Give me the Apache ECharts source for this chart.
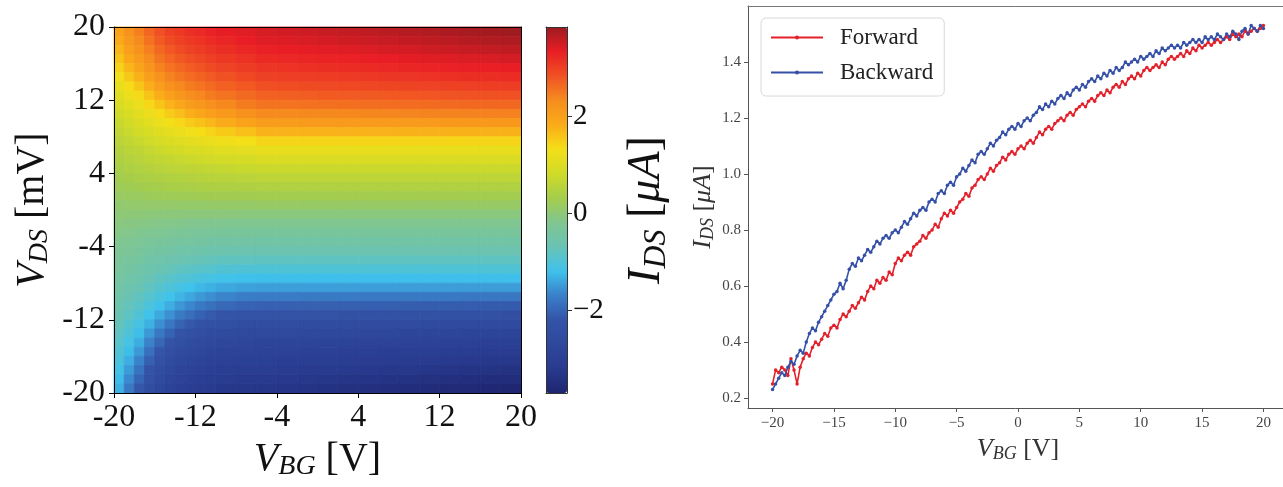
<!DOCTYPE html>
<html>
<head>
<meta charset="utf-8">
<script src="https://cdn.jsdelivr.net/npm/echarts@6/dist/echarts.min.js"></script>
<style>
html, body { margin: 0; padding: 0; background: #fff; }
#chart { width: 1283px; height: 487px; }
</style>
</head>
<body>
<div id="chart"></div>
<script>
// ---- left panel: I_DS map over (V_BG, V_DS) ----
// cell edges: V_BG in V (finer where the map bends), V_DS in mV (top first)
var vbgEdges = [-20, -19, -18, -17, -16, -15, -14, -13, -12, -11, -10, -8, -6, -4, -2, 0, 2, 4, 6, 8, 10, 12, 14, 16, 18, 20];
var vdsEdges = [20, 19, 18, 17, 16, 15, 14, 13, 12, 11, 10, 9, 8, 7, 6, 5, 4, 3, 2, 1, 0,
  -1, -2, -3, -4, -5, -6, -7, -8, -9, -10, -11, -12, -13, -14, -15, -16, -17, -18, -19, -20];
// I_DS in uA, one row per V_DS cell (top first), one column per V_BG cell
var idsMap = [
  [1.96, 2.22, 2.44, 2.65, 2.84, 2.98, 3.07, 3.15, 3.21, 3.28, 3.34, 3.40, 3.45, 3.48, 3.51, 3.54, 3.57, 3.60, 3.63, 3.66, 3.69, 3.72, 3.75, 3.78, 3.81],
  [1.85, 2.13, 2.34, 2.55, 2.74, 2.88, 2.98, 3.07, 3.12, 3.19, 3.25, 3.33, 3.39, 3.41, 3.44, 3.47, 3.50, 3.52, 3.55, 3.58, 3.60, 3.63, 3.66, 3.69, 3.71],
  [1.73, 2.01, 2.23, 2.44, 2.63, 2.77, 2.87, 2.97, 3.03, 3.10, 3.16, 3.23, 3.30, 3.32, 3.35, 3.37, 3.40, 3.42, 3.45, 3.47, 3.50, 3.52, 3.55, 3.57, 3.60],
  [1.59, 1.87, 2.10, 2.33, 2.52, 2.65, 2.76, 2.85, 2.92, 3.00, 3.07, 3.13, 3.20, 3.22, 3.24, 3.27, 3.29, 3.31, 3.33, 3.36, 3.38, 3.40, 3.42, 3.44, 3.47],
  [1.44, 1.72, 1.95, 2.18, 2.39, 2.53, 2.63, 2.73, 2.80, 2.88, 2.96, 3.03, 3.10, 3.12, 3.14, 3.16, 3.18, 3.20, 3.22, 3.24, 3.26, 3.28, 3.30, 3.31, 3.33],
  [1.28, 1.54, 1.77, 2.01, 2.23, 2.39, 2.50, 2.60, 2.67, 2.75, 2.83, 2.91, 2.99, 3.00, 3.02, 3.04, 3.05, 3.07, 3.09, 3.10, 3.12, 3.14, 3.16, 3.17, 3.19],
  [1.15, 1.36, 1.57, 1.81, 2.03, 2.22, 2.34, 2.46, 2.53, 2.61, 2.69, 2.77, 2.85, 2.86, 2.88, 2.89, 2.91, 2.92, 2.94, 2.95, 2.96, 2.98, 2.99, 3.01, 3.02],
  [1.02, 1.21, 1.38, 1.59, 1.81, 2.00, 2.15, 2.28, 2.36, 2.46, 2.54, 2.62, 2.70, 2.71, 2.72, 2.74, 2.75, 2.76, 2.77, 2.78, 2.79, 2.81, 2.82, 2.83, 2.84],
  [0.92, 1.07, 1.20, 1.39, 1.57, 1.75, 1.91, 2.05, 2.15, 2.26, 2.35, 2.46, 2.54, 2.54, 2.55, 2.56, 2.57, 2.58, 2.59, 2.60, 2.61, 2.62, 2.63, 2.63, 2.64],
  [0.82, 0.96, 1.07, 1.20, 1.36, 1.50, 1.64, 1.78, 1.89, 2.01, 2.12, 2.24, 2.34, 2.34, 2.35, 2.35, 2.36, 2.37, 2.37, 2.38, 2.39, 2.39, 2.40, 2.41, 2.41],
  [0.73, 0.85, 0.95, 1.06, 1.18, 1.28, 1.39, 1.51, 1.60, 1.71, 1.83, 1.96, 2.07, 2.07, 2.08, 2.08, 2.09, 2.09, 2.09, 2.10, 2.10, 2.11, 2.11, 2.11, 2.12],
  [0.65, 0.75, 0.84, 0.93, 1.03, 1.11, 1.19, 1.26, 1.34, 1.43, 1.52, 1.62, 1.75, 1.75, 1.75, 1.75, 1.75, 1.75, 1.75, 1.76, 1.76, 1.76, 1.76, 1.76, 1.76],
  [0.57, 0.65, 0.73, 0.81, 0.89, 0.96, 1.02, 1.08, 1.13, 1.19, 1.25, 1.31, 1.42, 1.42, 1.42, 1.42, 1.42, 1.42, 1.42, 1.42, 1.42, 1.42, 1.42, 1.42, 1.42],
  [0.50, 0.56, 0.62, 0.69, 0.76, 0.82, 0.86, 0.92, 0.96, 1.00, 1.05, 1.10, 1.16, 1.16, 1.16, 1.16, 1.16, 1.16, 1.16, 1.16, 1.16, 1.16, 1.16, 1.16, 1.16],
  [0.43, 0.49, 0.54, 0.59, 0.64, 0.68, 0.72, 0.76, 0.79, 0.83, 0.86, 0.90, 0.95, 0.95, 0.95, 0.95, 0.95, 0.95, 0.95, 0.95, 0.95, 0.95, 0.95, 0.95, 0.95],
  [0.36, 0.41, 0.45, 0.50, 0.54, 0.57, 0.60, 0.62, 0.64, 0.67, 0.69, 0.73, 0.76, 0.76, 0.76, 0.76, 0.76, 0.76, 0.76, 0.76, 0.76, 0.76, 0.76, 0.76, 0.76],
  [0.29, 0.33, 0.37, 0.40, 0.43, 0.46, 0.48, 0.50, 0.52, 0.54, 0.55, 0.57, 0.60, 0.60, 0.60, 0.60, 0.60, 0.60, 0.60, 0.60, 0.60, 0.60, 0.60, 0.60, 0.60],
  [0.22, 0.25, 0.27, 0.30, 0.32, 0.35, 0.36, 0.38, 0.39, 0.40, 0.41, 0.43, 0.45, 0.45, 0.45, 0.45, 0.45, 0.45, 0.45, 0.45, 0.45, 0.45, 0.45, 0.45, 0.45],
  [0.14, 0.16, 0.17, 0.19, 0.21, 0.22, 0.23, 0.24, 0.25, 0.26, 0.26, 0.27, 0.29, 0.29, 0.29, 0.29, 0.29, 0.29, 0.29, 0.29, 0.29, 0.29, 0.29, 0.29, 0.29],
  [0.06, 0.07, 0.08, 0.08, 0.09, 0.09, 0.10, 0.10, 0.10, 0.11, 0.11, 0.11, 0.12, 0.12, 0.12, 0.12, 0.12, 0.12, 0.12, 0.12, 0.12, 0.12, 0.12, 0.12, 0.12],
  [0.00, -0.01, -0.01, -0.02, -0.02, -0.03, -0.03, -0.04, -0.04, -0.04, -0.04, -0.05, -0.05, -0.05, -0.05, -0.05, -0.05, -0.05, -0.05, -0.05, -0.05, -0.05, -0.05, -0.05, -0.05],
  [-0.06, -0.08, -0.10, -0.11, -0.13, -0.14, -0.16, -0.17, -0.17, -0.18, -0.19, -0.20, -0.20, -0.20, -0.20, -0.20, -0.20, -0.20, -0.20, -0.20, -0.20, -0.20, -0.20, -0.20, -0.20],
  [-0.12, -0.15, -0.18, -0.21, -0.24, -0.26, -0.28, -0.30, -0.31, -0.32, -0.33, -0.34, -0.35, -0.35, -0.35, -0.35, -0.35, -0.35, -0.35, -0.35, -0.35, -0.35, -0.35, -0.35, -0.35],
  [-0.19, -0.23, -0.26, -0.31, -0.34, -0.37, -0.41, -0.43, -0.45, -0.46, -0.48, -0.49, -0.50, -0.50, -0.50, -0.50, -0.50, -0.50, -0.50, -0.50, -0.50, -0.50, -0.50, -0.50, -0.50],
  [-0.25, -0.30, -0.35, -0.40, -0.45, -0.49, -0.53, -0.56, -0.58, -0.60, -0.62, -0.64, -0.65, -0.65, -0.65, -0.65, -0.65, -0.65, -0.65, -0.65, -0.65, -0.65, -0.65, -0.65, -0.65],
  [-0.31, -0.37, -0.43, -0.50, -0.56, -0.61, -0.65, -0.69, -0.72, -0.75, -0.78, -0.80, -0.81, -0.81, -0.81, -0.81, -0.81, -0.81, -0.81, -0.81, -0.81, -0.81, -0.81, -0.81, -0.81],
  [-0.37, -0.45, -0.52, -0.59, -0.66, -0.72, -0.79, -0.84, -0.88, -0.92, -0.96, -0.99, -1.00, -1.00, -1.00, -1.00, -1.00, -1.00, -1.00, -1.00, -1.00, -1.00, -1.00, -1.00, -1.00],
  [-0.43, -0.52, -0.60, -0.69, -0.78, -0.86, -0.95, -1.00, -1.07, -1.11, -1.16, -1.20, -1.21, -1.21, -1.21, -1.21, -1.21, -1.21, -1.21, -1.21, -1.21, -1.21, -1.21, -1.21, -1.21],
  [-0.49, -0.59, -0.68, -0.80, -0.91, -1.01, -1.11, -1.19, -1.26, -1.32, -1.39, -1.44, -1.46, -1.46, -1.46, -1.46, -1.46, -1.46, -1.46, -1.47, -1.47, -1.47, -1.47, -1.47, -1.47],
  [-0.55, -0.67, -0.78, -0.92, -1.05, -1.17, -1.29, -1.39, -1.50, -1.58, -1.66, -1.73, -1.75, -1.75, -1.76, -1.76, -1.76, -1.77, -1.77, -1.77, -1.78, -1.78, -1.79, -1.79, -1.80],
  [-0.62, -0.75, -0.88, -1.04, -1.20, -1.34, -1.52, -1.64, -1.77, -1.86, -1.95, -2.02, -2.04, -2.04, -2.05, -2.05, -2.06, -2.07, -2.07, -2.08, -2.09, -2.09, -2.10, -2.11, -2.11],
  [-0.68, -0.83, -0.99, -1.18, -1.37, -1.56, -1.76, -1.90, -2.03, -2.13, -2.21, -2.27, -2.29, -2.29, -2.30, -2.31, -2.32, -2.33, -2.34, -2.35, -2.36, -2.37, -2.38, -2.38, -2.39],
  [-0.74, -0.93, -1.10, -1.32, -1.57, -1.79, -2.01, -2.15, -2.26, -2.35, -2.42, -2.48, -2.49, -2.50, -2.51, -2.53, -2.54, -2.55, -2.56, -2.57, -2.58, -2.60, -2.61, -2.62, -2.63],
  [-0.82, -1.02, -1.22, -1.50, -1.78, -2.01, -2.23, -2.34, -2.45, -2.52, -2.59, -2.64, -2.65, -2.66, -2.68, -2.69, -2.71, -2.72, -2.74, -2.75, -2.76, -2.78, -2.79, -2.81, -2.82],
  [-0.89, -1.12, -1.35, -1.68, -1.98, -2.22, -2.41, -2.51, -2.61, -2.67, -2.73, -2.78, -2.79, -2.80, -2.82, -2.84, -2.85, -2.87, -2.89, -2.90, -2.92, -2.94, -2.96, -2.97, -2.99],
  [-0.97, -1.23, -1.51, -1.88, -2.18, -2.39, -2.56, -2.65, -2.73, -2.79, -2.85, -2.89, -2.90, -2.92, -2.94, -2.96, -2.98, -3.00, -3.02, -3.04, -3.06, -3.08, -3.10, -3.11, -3.13],
  [-1.05, -1.34, -1.67, -2.06, -2.34, -2.53, -2.68, -2.77, -2.85, -2.90, -2.95, -2.99, -3.00, -3.02, -3.04, -3.07, -3.09, -3.11, -3.13, -3.16, -3.18, -3.20, -3.22, -3.24, -3.27],
  [-1.14, -1.48, -1.84, -2.22, -2.48, -2.65, -2.79, -2.87, -2.94, -3.00, -3.05, -3.09, -3.10, -3.12, -3.15, -3.17, -3.20, -3.22, -3.25, -3.27, -3.30, -3.32, -3.35, -3.37, -3.40],
  [-1.23, -1.62, -2.00, -2.36, -2.60, -2.75, -2.89, -2.96, -3.03, -3.09, -3.14, -3.19, -3.20, -3.22, -3.25, -3.28, -3.31, -3.33, -3.36, -3.39, -3.41, -3.44, -3.47, -3.50, -3.52],
  [-1.32, -1.77, -2.16, -2.49, -2.70, -2.85, -2.97, -3.05, -3.12, -3.18, -3.24, -3.28, -3.29, -3.32, -3.35, -3.38, -3.41, -3.44, -3.47, -3.50, -3.53, -3.56, -3.59, -3.62, -3.65]
];
var mapTicks = [-20, -12, -4, 4, 12, 20];
var cbarRange = [-3.7, 3.83];
var cbarTicks = [-2, 0, 2];
var cbarColors = ['#1e2570', '#283a8e', '#2e489c', '#3454a8', '#3a80c9', '#3fc2ec', '#69c3b3', '#80c690',
  '#a5cd4a', '#d0db28', '#f5df18', '#faab19', '#f68c1e', '#f05123', '#e91d25', '#9b1b20'];

// ---- right panel: gate sweeps ----
var sweepV = [
  -20, -19.75, -19.5, -19.25, -19, -18.75, -18.5, -18.25, -18, -17.75, -17.5, -17.25, -17, -16.75, -16.5, -16.25,
  -16, -15.75, -15.5, -15.25, -15, -14.75, -14.5, -14.25, -14, -13.75, -13.5, -13.25, -13, -12.75, -12.5, -12.25,
  -12, -11.75, -11.5, -11.25, -11, -10.75, -10.5, -10.25, -10, -9.75, -9.5, -9.25, -9, -8.75, -8.5, -8.25,
  -8, -7.75, -7.5, -7.25, -7, -6.75, -6.5, -6.25, -6, -5.75, -5.5, -5.25, -5, -4.75, -4.5, -4.25,
  -4, -3.75, -3.5, -3.25, -3, -2.75, -2.5, -2.25, -2, -1.75, -1.5, -1.25, -1, -0.75, -0.5, -0.25,
  0, 0.25, 0.5, 0.75, 1, 1.25, 1.5, 1.75, 2, 2.25, 2.5, 2.75, 3, 3.25, 3.5, 3.75,
  4, 4.25, 4.5, 4.75, 5, 5.25, 5.5, 5.75, 6, 6.25, 6.5, 6.75, 7, 7.25, 7.5, 7.75,
  8, 8.25, 8.5, 8.75, 9, 9.25, 9.5, 9.75, 10, 10.25, 10.5, 10.75, 11, 11.25, 11.5, 11.75,
  12, 12.25, 12.5, 12.75, 13, 13.25, 13.5, 13.75, 14, 14.25, 14.5, 14.75, 15, 15.25, 15.5, 15.75,
  16, 16.25, 16.5, 16.75, 17, 17.25, 17.5, 17.75, 18, 18.25, 18.5, 18.75, 19, 19.25, 19.5, 19.75,
  20
];
var forward = [
  0.25, 0.30, 0.29, 0.31, 0.30, 0.28, 0.34, 0.30, 0.25, 0.31, 0.34, 0.36, 0.35, 0.38, 0.40, 0.39,
  0.41, 0.43, 0.42, 0.45, 0.46, 0.45, 0.48, 0.50, 0.49, 0.51, 0.53, 0.52, 0.54, 0.56, 0.55, 0.58,
  0.60, 0.59, 0.62, 0.61, 0.63, 0.62, 0.65, 0.64, 0.68, 0.70, 0.69, 0.71, 0.72, 0.71, 0.74, 0.75,
  0.76, 0.78, 0.77, 0.79, 0.80, 0.82, 0.81, 0.84, 0.86, 0.85, 0.87, 0.86, 0.88, 0.90, 0.91, 0.93,
  0.92, 0.95, 0.96, 0.98, 0.99, 0.98, 1.00, 1.02, 1.01, 1.03, 1.04, 1.06, 1.05, 1.07, 1.08, 1.07,
  1.09, 1.10, 1.09, 1.11, 1.12, 1.11, 1.13, 1.15, 1.14, 1.16, 1.17, 1.16, 1.18, 1.19, 1.20, 1.19,
  1.21, 1.22, 1.21, 1.23, 1.24, 1.25, 1.24, 1.26, 1.27, 1.26, 1.28, 1.29, 1.28, 1.30, 1.29, 1.31,
  1.32, 1.31, 1.33, 1.32, 1.34, 1.35, 1.34, 1.36, 1.35, 1.37, 1.38, 1.37, 1.38, 1.39, 1.38, 1.40,
  1.39, 1.41, 1.42, 1.41, 1.42, 1.43, 1.42, 1.44, 1.43, 1.45, 1.44, 1.46, 1.45, 1.46, 1.47, 1.46,
  1.47, 1.48, 1.47, 1.48, 1.49, 1.48, 1.50, 1.49, 1.50, 1.49, 1.51, 1.50, 1.51, 1.52, 1.51, 1.52,
  1.53
];
var backward = [
  0.23, 0.25, 0.27, 0.29, 0.28, 0.31, 0.33, 0.32, 0.35, 0.37, 0.36, 0.40, 0.43, 0.45, 0.44, 0.47,
  0.49, 0.51, 0.53, 0.55, 0.57, 0.58, 0.61, 0.59, 0.62, 0.66, 0.68, 0.67, 0.70, 0.69, 0.71, 0.73,
  0.72, 0.74, 0.76, 0.75, 0.77, 0.78, 0.77, 0.79, 0.80, 0.79, 0.81, 0.83, 0.82, 0.84, 0.86, 0.85,
  0.87, 0.88, 0.87, 0.90, 0.91, 0.90, 0.93, 0.94, 0.93, 0.96, 0.97, 0.96, 0.99, 1.00, 1.02, 1.01,
  1.03, 1.05, 1.04, 1.07, 1.08, 1.07, 1.09, 1.11, 1.10, 1.12, 1.13, 1.15, 1.14, 1.16, 1.17, 1.16,
  1.18, 1.17, 1.19, 1.20, 1.19, 1.21, 1.22, 1.24, 1.23, 1.25, 1.24, 1.26, 1.25, 1.27, 1.28, 1.27,
  1.29, 1.28, 1.30, 1.31, 1.30, 1.32, 1.31, 1.33, 1.34, 1.33, 1.35, 1.34, 1.36, 1.35, 1.37, 1.36,
  1.38, 1.37, 1.38, 1.40, 1.39, 1.40, 1.41, 1.40, 1.42, 1.41, 1.42, 1.43, 1.42, 1.44, 1.43, 1.45,
  1.44, 1.45, 1.46, 1.45, 1.46, 1.45, 1.47, 1.46, 1.47, 1.48, 1.47, 1.48, 1.47, 1.49, 1.48, 1.49,
  1.48, 1.50, 1.49, 1.48, 1.50, 1.49, 1.51, 1.50, 1.48, 1.51, 1.52, 1.50, 1.53, 1.52, 1.51, 1.53,
  1.52
];
var sweepTicksX = [-20, -15, -10, -5, 0, 5, 10, 15, 20];
var sweepTicksY = [0.2, 0.4, 0.6, 0.8, 1.0, 1.2, 1.4];

var serif = 'Liberation Serif';

function mathRich(size, color) {
  return {
    i: { fontFamily: serif, fontStyle: 'italic', fontSize: size, color: color, lineHeight: size * 1.1 },
    s: { fontFamily: serif, fontStyle: 'italic', fontSize: Math.round(size * 0.7), color: color,
      verticalAlign: 'bottom', lineHeight: size * 0.5 },
    n: { fontFamily: serif, fontSize: size, color: color, lineHeight: size * 1.1 }
  };
}
function minus(v) {
  return String(v).replace('-', '\u2212');
}
function pairs(xs, ys) {
  return xs.map(function (x, k) { return [x, ys[k]]; });
}

// one rectangle per map cell: [vbg0, vbg1, vds0, vds1, ids]
var mapCells = [];
idsMap.forEach(function (row, r) {
  row.forEach(function (val, c) {
    mapCells.push([vbgEdges[c], vbgEdges[c + 1], vdsEdges[r + 1], vdsEdges[r], val]);
  });
});

function renderCell(params, api) {
  var a = api.coord([api.value(0), api.value(3)]);
  var b = api.coord([api.value(1), api.value(2)]);
  var color = api.visual('color');
  return {
    type: 'rect',
    shape: { x: a[0], y: a[1], width: b[0] - a[0], height: b[1] - a[1] },
    style: { fill: color, stroke: color, lineWidth: 0.8 }
  };
}

var chart = echarts.init(document.getElementById('chart'));

function frameOnly(color) {
  return {
    axisLine: { show: true, onZero: false, lineStyle: { color: color, width: 1 } },
    axisTick: { show: false }, axisLabel: { show: false }, splitLine: { show: false }
  };
}

var option = {
  animation: false,
  backgroundColor: '#fff',
  grid: [
    { left: 114, top: 27, width: 407, height: 366, outerBoundsMode: 'none' },
    { left: 546, top: 27, width: 21, height: 366, outerBoundsMode: 'none' },
    { left: 748, top: 6, width: 540, height: 402, outerBoundsMode: 'none' }
  ],
  xAxis: [
    {
      type: 'value', gridIndex: 0, min: -20, max: 20, position: 'bottom', z: 10,
      axisLine: { show: true, onZero: false, lineStyle: { color: '#000', width: 1 } },
      axisTick: { show: true, length: 5, customValues: mapTicks, lineStyle: { color: '#000' } },
      axisLabel: { customValues: mapTicks, margin: 9, fontFamily: serif, fontSize: 32, color: '#111' },
      splitLine: { show: false },
      name: '{i|V}{s|BG}{n| [V]}', nameLocation: 'middle', nameGap: 44,
      nameTextStyle: { rich: mathRich(40, '#111') }
    },
    Object.assign({ type: 'value', gridIndex: 0, min: -20, max: 20, position: 'top', z: 10 }, frameOnly('#000')),
    Object.assign({ type: 'value', gridIndex: 1, min: 0, max: 1, position: 'bottom', z: 10 }, frameOnly('#333')),
    Object.assign({ type: 'value', gridIndex: 1, min: 0, max: 1, position: 'top', z: 10 }, frameOnly('#333')),
    {
      type: 'value', gridIndex: 2, min: -22, max: 22, position: 'bottom',
      axisLine: { show: true, onZero: false, lineStyle: { color: '#555', width: 1 } },
      axisTick: { show: true, length: 4, customValues: sweepTicksX, lineStyle: { color: '#555' } },
      axisLabel: { customValues: sweepTicksX, margin: 8, fontFamily: serif, fontSize: 15, color: '#444',
        formatter: minus },
      splitLine: { show: false },
      name: '{i|V}{s|BG}{n| [V]}', nameLocation: 'middle', nameGap: 27,
      nameTextStyle: { rich: mathRich(26, '#333') }
    },
    Object.assign({ type: 'value', gridIndex: 2, min: -22, max: 22, position: 'top' }, frameOnly('#777'))
  ],
  yAxis: [
    {
      type: 'value', gridIndex: 0, min: -20, max: 20, position: 'left', z: 10,
      axisLine: { show: true, onZero: false, lineStyle: { color: '#000', width: 1 } },
      axisTick: { show: true, length: 5, customValues: mapTicks, lineStyle: { color: '#000' } },
      axisLabel: { customValues: mapTicks, margin: 9, fontFamily: serif, fontSize: 32, color: '#111' },
      splitLine: { show: false },
      name: '{i|V}{s|DS}{n| [mV]}', nameLocation: 'middle', nameGap: 60,
      nameTextStyle: { rich: mathRich(40, '#111') }
    },
    Object.assign({ type: 'value', gridIndex: 0, min: -20, max: 20, position: 'right', z: 10 }, frameOnly('#000')),
    {
      type: 'value', gridIndex: 1, min: cbarRange[0], max: cbarRange[1], position: 'right', z: 10,
      axisLine: { show: true, onZero: false, lineStyle: { color: '#333', width: 1 } },
      axisTick: { show: true, length: 5, customValues: cbarTicks, lineStyle: { color: '#333' } },
      axisLabel: { customValues: cbarTicks, margin: 6, fontFamily: serif, fontSize: 29, color: '#111',
        formatter: minus },
      splitLine: { show: false },
      name: '{i|I}{s|DS}{n| [}{i|\u03bcA}{n|]}', nameLocation: 'middle', nameGap: 55,
      nameTextStyle: { rich: mathRich(46, '#111') }
    },
    Object.assign({ type: 'value', gridIndex: 1, min: cbarRange[0], max: cbarRange[1], position: 'left', z: 10 },
      frameOnly('#333')),
    {
      type: 'value', gridIndex: 2, min: 0.164, max: 1.6, position: 'left',
      axisLine: { show: true, onZero: false, lineStyle: { color: '#555', width: 1 } },
      axisTick: { show: true, length: 4, customValues: sweepTicksY, lineStyle: { color: '#555' } },
      axisLabel: { customValues: sweepTicksY, margin: 7, fontFamily: serif, fontSize: 15, color: '#444',
        formatter: function (v) { return v.toFixed(1); } },
      splitLine: { show: false },
      name: '{i|I}{s|DS}{n| [}{i|\u03bcA}{n|]}', nameLocation: 'middle', nameGap: 31,
      nameTextStyle: { rich: mathRich(26, '#333') }
    }
  ],
  visualMap: {
    type: 'continuous', seriesIndex: 0, dimension: 4, min: cbarRange[0], max: cbarRange[1],
    left: 546, top: 27, itemWidth: 21, itemHeight: 366, padding: 0,
    calculable: false, hoverLink: false, text: ['', ''], showLabel: false,
    inRange: { color: cbarColors }
  },
  legend: {
    data: ['Forward', 'Backward'], orient: 'vertical', left: 761, top: 18,
    padding: [8, 11, 12, 9], itemGap: 12, itemWidth: 52, itemHeight: 5,
    backgroundColor: '#fff', borderColor: '#d8d8d8', borderWidth: 1, borderRadius: 5,
    textStyle: { fontFamily: serif, fontSize: 23, color: '#222', padding: [0, 0, 0, 12] }
  },
  series: [
    {
      type: 'custom', xAxisIndex: 0, yAxisIndex: 0, data: mapCells,
      encode: { x: [0, 1], y: [2, 3] },
      renderItem: renderCell, silent: true
    },
    {
      name: 'Forward', type: 'line', xAxisIndex: 4, yAxisIndex: 4, data: pairs(sweepV, forward),
      symbol: 'circle', symbolSize: 3.5, showAllSymbol: true,
      itemStyle: { color: '#e3212b' }, lineStyle: { color: '#e3212b', width: 1.6 }
    },
    {
      name: 'Backward', type: 'line', xAxisIndex: 4, yAxisIndex: 4, data: pairs(sweepV, backward),
      symbol: 'circle', symbolSize: 3.5, showAllSymbol: true,
      itemStyle: { color: '#3550a6' }, lineStyle: { color: '#3550a6', width: 1.6 }
    }
  ]
};

chart.setOption(option);
</script>
</body>
</html>
